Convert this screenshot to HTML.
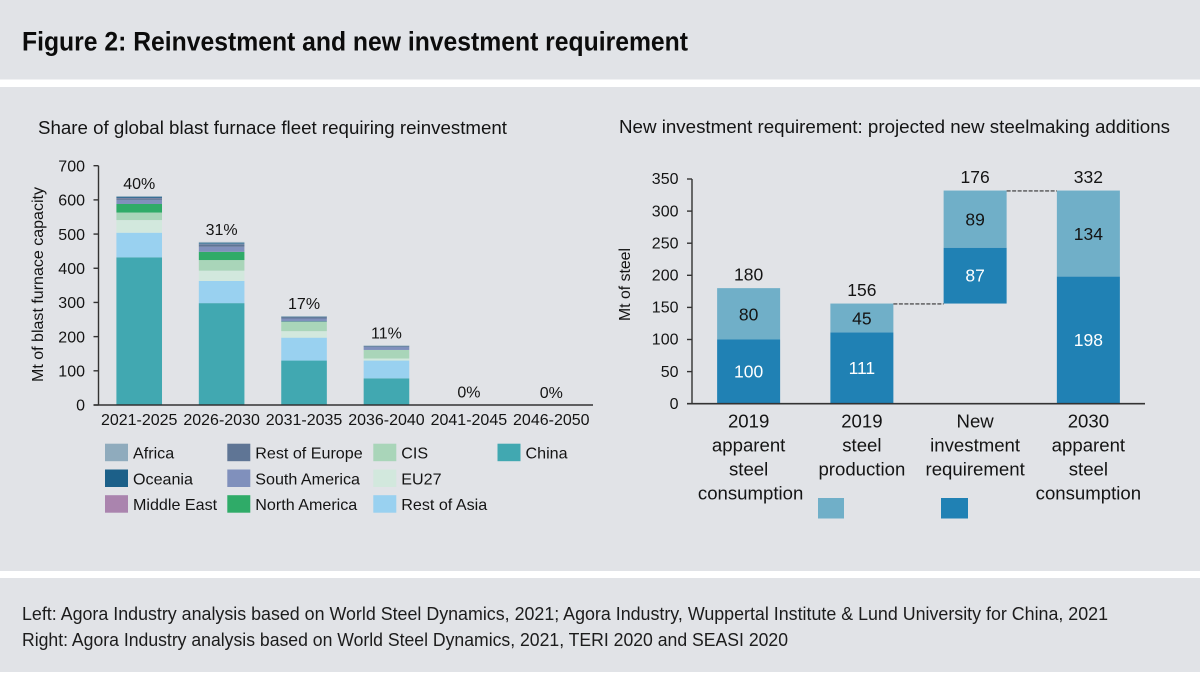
<!DOCTYPE html>
<html lang="en">
<head>
<meta charset="utf-8">
<title>Figure 2: Reinvestment and new investment requirement</title>
<style>
html,body{margin:0;padding:0;background:#fff;}
body{width:1200px;height:673px;overflow:hidden;}
svg{display:block;}
text{font-family:"Liberation Sans",Arial,sans-serif;fill:#141414;}
</style>
</head>
<body>
<svg id="root" width="1200" height="673" viewBox="0 0 1200 673" xmlns="http://www.w3.org/2000/svg">
  <rect x="0" y="0" width="1200" height="673" fill="#ffffff"/>
  <rect x="0" y="0" width="1200" height="79.5" fill="#e1e3e7"/>
  <rect x="0" y="87" width="1200" height="484" fill="#e1e3e7"/>
  <rect x="0" y="578" width="1200" height="94" fill="#e1e3e7"/>
  <text x="22" y="50.5" font-size="26.5" font-weight="700" textLength="666" lengthAdjust="spacingAndGlyphs" style="fill:#0c0c0c">Figure 2: Reinvestment and new investment requirement</text>
  <text x="38" y="134" font-size="18" textLength="469" lengthAdjust="spacingAndGlyphs">Share of global blast furnace fleet requiring reinvestment</text>
  <text x="619" y="133" font-size="18" textLength="551" lengthAdjust="spacingAndGlyphs">New investment requirement: projected new steelmaking additions</text>
  <text x="22" y="620" font-size="18" textLength="1086" lengthAdjust="spacingAndGlyphs" style="fill:#1c1c1c">Left: Agora Industry analysis based on World Steel Dynamics, 2021; Agora Industry, Wuppertal Institute &amp; Lund University for China, 2021</text>
  <text x="22" y="646" font-size="18" textLength="766" lengthAdjust="spacingAndGlyphs" style="fill:#1c1c1c">Right: Agora Industry analysis based on World Steel Dynamics, 2021, TERI 2020 and SEASI 2020</text>
  <text transform="translate(43,284.5) rotate(-90)" text-anchor="middle" font-size="16" textLength="195" lengthAdjust="spacingAndGlyphs">Mt of blast furnace capacity</text>
  <text transform="translate(630,284.5) rotate(-90)" text-anchor="middle" font-size="16" textLength="73" lengthAdjust="spacingAndGlyphs">Mt of steel</text>
  <g id="left-chart"></g>
  <g id="right-chart"></g>
</svg>
<script>
// ---- Left chart data ----
const periods = ['2021-2025', '2026-2030', '2031-2035', '2036-2040', '2041-2045', '2046-2050'];
const shareLabels = ['40%', '31%', '17%', '11%', '0%', '0%'];
const leftTicks = [0, 100, 200, 300, 400, 500, 600, 700];
const china = [432, 298, 130, 78, 0, 0];
const restOfAsia = [72, 65, 67, 52, 0, 0];
const eu27 = [37, 30, 19, 6, 0, 0];
const cis = [22, 31, 27, 25, 0, 0];
const northAmerica = [25, 24, 1, 0, 1, 0];
const southAmerica = [12, 15, 9, 9, 0, 0];
const restOfEurope = [5, 6, 4, 2, 0, 0];
const middleEast = [1, 1, 0, 0, 0, 0];
const oceania = [3, 3, 1, 1, 0, 0];
const africa = [2, 4, 2, 1, 0, 0];

// ---- Right chart data ----
const stages = [['2019', 'apparent', 'steel', 'consumption'], ['2019', 'steel', 'production'], ['New', 'investment', 'requirement'], ['2030', 'apparent', 'steel', 'consumption']];
const rightTicks = [0, 50, 100, 150, 200, 250, 300, 350];
const bases = [0, 0, 156, 0];
const darkValues = [100, 111, 87, 198];
const lightValues = [80, 45, 89, 134];
const totals = [180, 156, 176, 332];

const NS = 'http://www.w3.org/2000/svg';
function make(parent, tag, attrs, txt) {
  const el = document.createElementNS(NS, tag);
  for (const k in attrs) el.setAttribute(k, attrs[k]);
  if (txt !== undefined) el.textContent = txt;
  parent.appendChild(el);
  return el;
}

// ---- Left chart ----
const left = document.getElementById('left-chart');
const leftX0 = 98.5, leftX1 = 593, leftY0 = 405, leftYTop = 165.7, leftMax = 700;
const leftBand = (leftX1 - leftX0) / periods.length, leftBarW = 45.6;
const leftY = v => leftY0 - (v / leftMax) * (leftY0 - leftYTop);
const leftX = i => leftX0 + leftBand * (i + 0.5) - 0.5;

const seriesNames = ['china', 'rest-of-asia', 'eu27', 'cis', 'north-america', 'south-america', 'rest-of-europe', 'middle-east', 'oceania', 'africa'];
const seriesValues = [china, restOfAsia, eu27, cis, northAmerica, southAmerica, restOfEurope, middleEast, oceania, africa];
const seriesColors = ['#41a8b1', '#99d1f0', '#d2e8dd', '#a9d5b9', '#2fab68', '#8090bc', '#5f7595', '#aa84ae', '#1c6089', '#8fabbd'];

periods.forEach((p, i) => {
  let cum = 0;
  seriesValues.forEach((vals, s) => {
    const v = vals[i];
    if (v > 0) {
      const bar = make(left, 'rect', {x: leftX(i) - leftBarW / 2, y: leftY(cum + v), width: leftBarW, height: leftY(cum) - leftY(cum + v), fill: seriesColors[s]});
      
      
    }
    cum += v;
  });
  const share = make(left, 'text', {x: leftX(i), y: leftY(cum) - 7, 'text-anchor': 'middle', 'font-size': 16}, shareLabels[i]);
  
  
  const cat = make(left, 'text', {x: leftX(i), y: 425, 'text-anchor': 'middle', 'font-size': 16}, p);
  
  
});

leftTicks.forEach(t => {
  const tick = make(left, 'line', {x1: 93.5, x2: leftX0, y1: leftY(t), y2: leftY(t), stroke: '#333', 'stroke-width': 1.4});
  
  
  const lab = make(left, 'text', {x: 85, y: leftY(t) + 5.7, 'text-anchor': 'end', 'font-size': 16}, String(t));
  
  
});
const leftYAxis = make(left, 'line', {x1: leftX0, x2: leftX0, y1: leftYTop, y2: leftY0, stroke: '#333', 'stroke-width': 1.4});


const leftXAxis = make(left, 'line', {x1: 93.5, x2: leftX1, y1: leftY0, y2: leftY0, stroke: '#333', 'stroke-width': 1.4});



// ---- Left legend ----
const legendLabels = ['Africa', 'Oceania', 'Middle East', 'Rest of Europe', 'South America', 'North America', 'CIS', 'EU27', 'Rest of Asia', 'China'];
const legendColors = ['#8fabbd', '#1c6089', '#aa84ae', '#5f7595', '#8090bc', '#2fab68', '#a9d5b9', '#d2e8dd', '#99d1f0', '#41a8b1'];
const legendColumn = [0, 0, 0, 1, 1, 1, 2, 2, 2, 3];
const legendRow = [0, 1, 2, 0, 1, 2, 0, 1, 2, 0];
const legendColX = [105, 227.3, 373.3, 497.5];
const legendRowY = [443.7, 469.5, 495.2];
legendLabels.forEach((name, i) => {
  const x = legendColX[legendColumn[i]], y = legendRowY[legendRow[i]];
  const sw = make(left, 'rect', {x: x, y: y, width: 23, height: 17.5, fill: legendColors[i]});
  
  
  const tx = make(left, 'text', {x: x + 28, y: y + 15, 'font-size': 16.1}, name);
  
  
});

// ---- Right chart ----
const right = document.getElementById('right-chart');
const rightX0 = 692, rightX1 = 1145, rightY0 = 403.7, rightYTop = 179, rightMax = 350;
const rightBand = (rightX1 - rightX0) / stages.length, rightBarW = 63;
const rightY = v => rightY0 - (v / rightMax) * (rightY0 - rightYTop);
const rightX = i => rightX0 + rightBand * (i + 0.5);
const DARK = '#2081b4', LIGHT = '#70afc8';

stages.forEach((lines, i) => {
  const base = bases[i], d = darkValues[i], l = lightValues[i];
  const xl = rightX(i) - rightBarW / 2;
  const darkBar = make(right, 'rect', {x: xl, y: rightY(base + d), width: rightBarW, height: rightY(base) - rightY(base + d), fill: DARK});
  
  
  const lightBar = make(right, 'rect', {x: xl, y: rightY(base + d + l), width: rightBarW, height: rightY(base + d) - rightY(base + d + l), fill: LIGHT});
  
  
  const dl = make(right, 'text', {x: rightX(i), y: rightY(base + d / 2) + 6, 'text-anchor': 'middle', 'font-size': 17.5, style: 'fill:#ffffff'}, String(d));
  
  
  const ll = make(right, 'text', {x: rightX(i), y: rightY(base + d + l / 2) + 6.5, 'text-anchor': 'middle', 'font-size': 17.5}, String(l));
  
  
  const tl = make(right, 'text', {x: rightX(i), y: rightY(base + d + l) - 7.5, 'text-anchor': 'middle', 'font-size': 17.5}, String(totals[i]));
  
  
  lines.forEach((line, n) => {
    const c = make(right, 'text', {x: rightX(i) + (line === 'consumption' && i === 0 ? 2 : 0), y: 427.5 + 24 * n, 'text-anchor': 'middle', 'font-size': 18.6}, line);
    
    
  });
});

// connectors between waterfall steps
for (let i = 1; i < stages.length - 1; i++) {
  const level = bases[i] + darkValues[i] + lightValues[i];
  const conn = make(right, 'line', {x1: rightX(i) + rightBarW / 2, x2: rightX(i + 1) - rightBarW / 2, y1: rightY(level) + 0.4, y2: rightY(level) + 0.4, stroke: '#333', 'stroke-width': 1.2, 'stroke-dasharray': '4 1.5'});
  
  
}

rightTicks.forEach(t => {
  const tick = make(right, 'line', {x1: 687, x2: rightX0, y1: rightY(t), y2: rightY(t), stroke: '#333', 'stroke-width': 1.4});
  
  
  const lab = make(right, 'text', {x: 678.5, y: rightY(t) + 5.2, 'text-anchor': 'end', 'font-size': 16}, String(t));
  
  
});
const rightYAxis = make(right, 'line', {x1: rightX0, x2: rightX0, y1: rightYTop, y2: rightY0, stroke: '#333', 'stroke-width': 1.4});


const rightXAxis = make(right, 'line', {x1: 687, x2: rightX1, y1: rightY0, y2: rightY0, stroke: '#333', 'stroke-width': 1.6});



const swatchLight = make(right, 'rect', {x: 818, y: 498, width: 26, height: 20.5, fill: LIGHT});


const swatchDark = make(right, 'rect', {x: 941, y: 498, width: 27, height: 20.5, fill: DARK});


</script>
</body>
</html>
